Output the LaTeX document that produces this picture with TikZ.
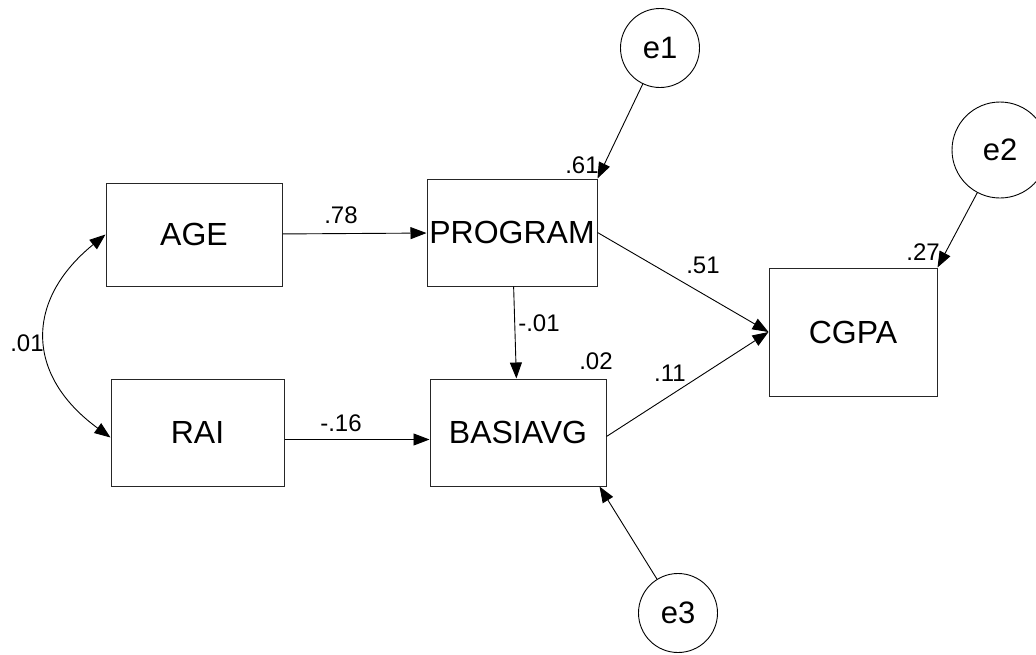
\documentclass[tikz,border=0pt]{standalone}
\usepackage{fontspec}
\setmainfont{Liberation Sans}
\usetikzlibrary{arrows.meta}
\begin{document}
\begin{tikzpicture}[x=1pt,y=-1pt,
  box/.style={draw=black!85, line width=1pt, inner sep=0pt, font=\fontsize{32}{36}\selectfont},
  err/.style={circle, draw=black, line width=0.9pt, inner sep=0pt, font=\fontsize{31}{36}\selectfont},
  reg/.style={-{Triangle[length=16pt,width=12pt]}, line width=0.9pt},
  cov/.style={{Triangle[length=16pt,width=12pt]}-{Triangle[length=16pt,width=12pt]}, line width=0.9pt},
  coef/.style={font=\fontsize{24}{28}\selectfont, inner sep=0pt}
]
\useasboundingbox (0,0) rectangle (1036,654);
% observed variables
\node[box, minimum width=176pt, minimum height=103pt] (age)  at (194,234.5) {AGE};
\node[box, minimum width=170pt, minimum height=107pt] (prog) at (512,232.5) {PROGRAM};
\node[box, minimum width=173pt, minimum height=107pt] (rai)  at (197.5,432.5) {RAI};
\node[box, minimum width=176pt, minimum height=107pt] (basi) at (518,432.5) {BASIAVG};
\node[box, minimum width=168pt, minimum height=128pt] (cgpa) at (853,332) {CGPA};
% error terms
\node[err, minimum size=79pt] (e1) at (660,48) {e1};
\node[err, minimum size=96pt] (e2) at (1000,150) {e2};
\node[err, minimum size=79pt] (e3) at (678,613) {e3};
% paths
\draw[reg] (age) -- (prog);
\coordinate (raiout) at ([yshift=-7pt]rai.east);
\coordinate (basiin) at ([yshift=-7pt]basi.west);
\draw[reg] (raiout) -- (basiin);
\draw[reg] (prog) -- (basi);
\draw[reg] (prog.east) -- (cgpa.west);
\coordinate (basiout) at ([yshift=-4pt]basi.east);
\draw[reg] (basiout) -- (cgpa.west);
\draw[reg] (e1) -- (prog.north east);
\draw[reg] (e2) -- (cgpa.north east);
\coordinate (basise) at ([xshift=-7pt]basi.south east);
\draw[reg] (e3) -- (basise);
\draw[cov] (age.west) .. controls (25,300) and (25,375) .. ([yshift=-5pt]rai.west);
% coefficients
\node[coef] (c78) at (341,215) {.78};
\node[coef] (c16) at (341,423) {-.16};
\node[coef] (c01b) at (539,323) {-.01};
\node[coef] (c02) at (596,361) {.02};
\node[coef] (c51) at (703,265) {.51};
\node[coef] (c11) at (670,373) {.11};
\node[coef] (c61) at (582,165) {.61};
\node[coef] (c27) at (923,252) {.27};
\node[coef] (c01) at (27,343) {.01};
\end{tikzpicture}
\end{document}
